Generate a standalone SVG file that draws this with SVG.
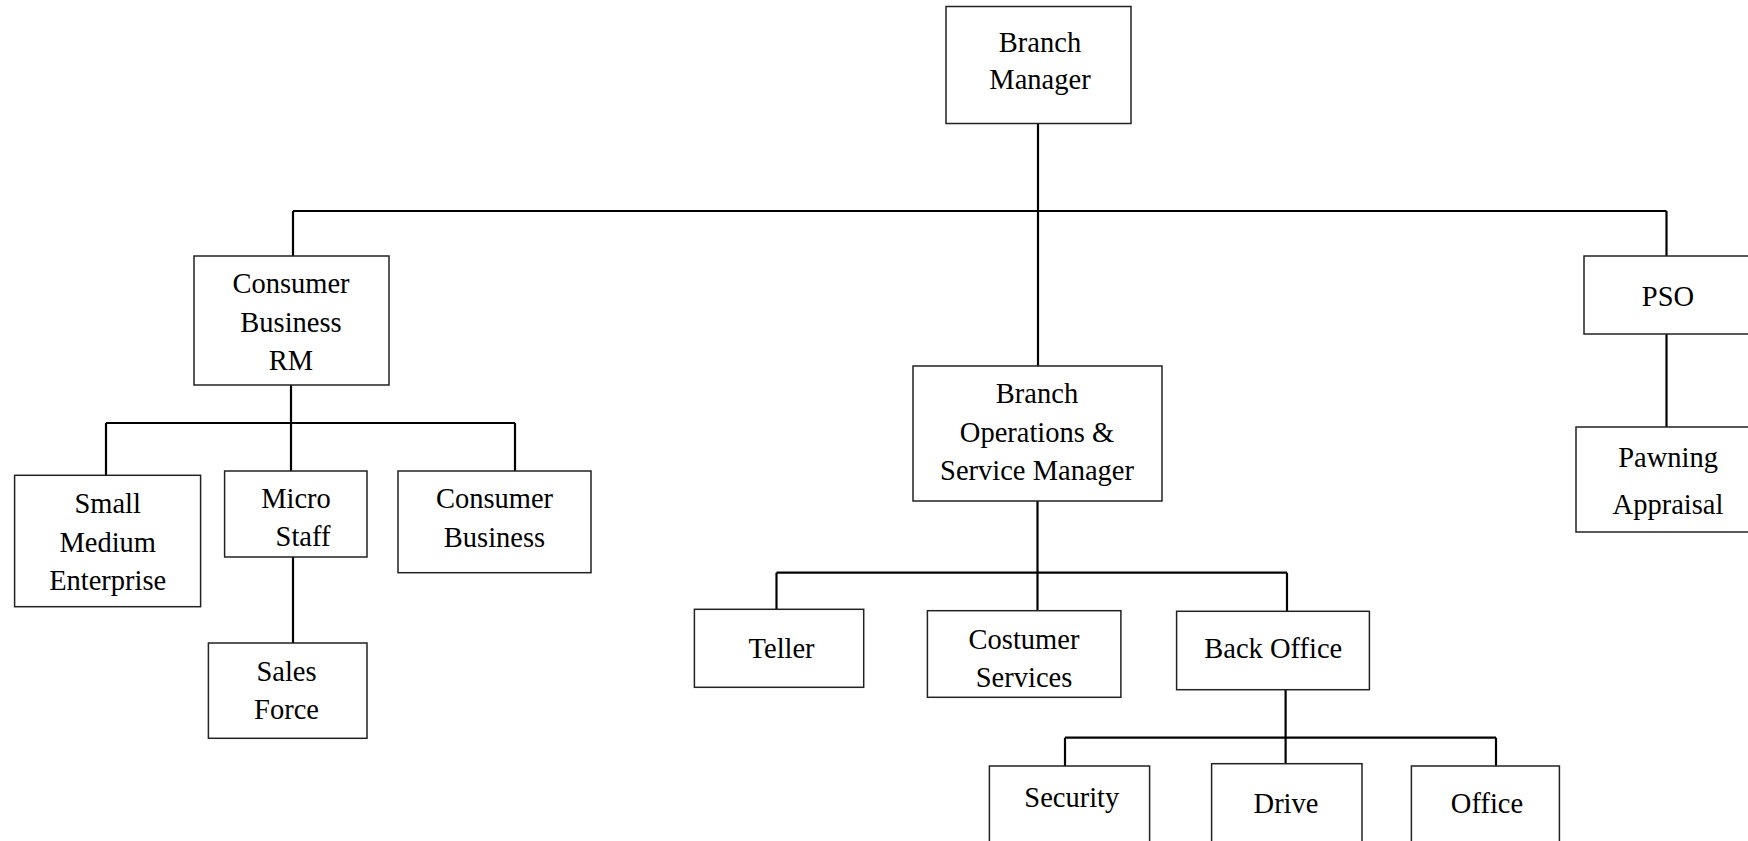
<svg xmlns="http://www.w3.org/2000/svg" width="1748" height="841" viewBox="0 0 1748 841">
<style>
rect.box{fill:#fff;stroke:#222;stroke-width:1.5}
.conn path{fill:none;stroke:#000;stroke-width:2.2}
text{font-family:"Liberation Serif","Times New Roman",serif;font-size:28.5px;fill:#000;text-anchor:middle}
</style>
<rect width="1748" height="841" fill="#fff"/>
<g class="conn" id="connectors">
<path d="M1038 124V366"/>
<path d="M293 211H1666.5"/>
<path d="M293 211V256"/>
<path d="M1666.5 211V256"/>
<path d="M1666.5 334V427"/>
<path d="M291 385V471"/>
<path d="M106 423H515"/>
<path d="M106 423V475"/>
<path d="M515 423V471"/>
<path d="M293 557V643"/>
<path d="M1037.5 501V611"/>
<path d="M776.5 572.7H1287"/>
<path d="M776.5 572.7V609"/>
<path d="M1287 572.7V611"/>
<path d="M1285.6 690V764"/>
<path d="M1065 737.7H1496"/>
<path d="M1065 737.7V766"/>
<path d="M1496 737.7V766"/>
</g>
<g id="branch-manager"><rect class="box" x="946" y="6.5" width="185" height="117"/><text x="1040" y="52">Branch</text><text x="1040" y="89">Manager</text></g>
<g id="consumer-business-rm"><rect class="box" x="194" y="256" width="195" height="129"/><text x="291" y="293">Consumer</text><text x="291" y="332">Business</text><text x="291" y="370">RM</text></g>
<g id="pso"><rect class="box" x="1584" y="256" width="200" height="78"/><text x="1668" y="306">PSO</text></g>
<g id="pawning-appraisal"><rect class="box" x="1576" y="427" width="200" height="105"/><text x="1668" y="466.5">Pawning</text><text x="1668" y="514">Appraisal</text></g>
<g id="bosm"><rect class="box" x="913" y="366" width="249" height="135"/><text x="1037" y="403">Branch</text><text x="1037" y="442">Operations &amp;</text><text x="1037" y="480">Service Manager</text></g>
<g id="sme"><rect class="box" x="14.6" y="475.3" width="186" height="131.4"/><text x="107.7" y="513">Small</text><text x="107.7" y="551.7">Medium</text><text x="107.7" y="590">Enterprise</text></g>
<g id="micro-staff"><rect class="box" x="224.6" y="471" width="142.4" height="86"/><text x="296" y="508">Micro</text><text x="303" y="546">Staff</text></g>
<g id="sales-force"><rect class="box" x="208.4" y="643" width="158.6" height="95.3"/><text x="286.5" y="681">Sales</text><text x="286.5" y="719">Force</text></g>
<g id="consumer-business"><rect class="box" x="398" y="471" width="193" height="101.7"/><text x="494.5" y="508">Consumer</text><text x="494.5" y="547">Business</text></g>
<g id="teller"><rect class="box" x="694.4" y="609.3" width="169.3" height="78"/><text x="781.6" y="658.3">Teller</text></g>
<g id="costumer-services"><rect class="box" x="927.4" y="610.7" width="193.5" height="86.6"/><text x="1024" y="649.3">Costumer</text><text x="1024" y="687.3">Services</text></g>
<g id="back-office"><rect class="box" x="1176.6" y="611.3" width="192.8" height="78.4"/><text x="1273.3" y="658.3">Back Office</text></g>
<g id="security"><rect class="box" x="989.4" y="766" width="160.2" height="100"/><text x="1071.8" y="807.3">Security</text></g>
<g id="drive"><rect class="box" x="1211.6" y="763.7" width="150.4" height="100"/><text x="1286" y="813.3">Drive</text></g>
<g id="office"><rect class="box" x="1411.4" y="766" width="148" height="100"/><text x="1487" y="813.3">Office</text></g>
</svg>
